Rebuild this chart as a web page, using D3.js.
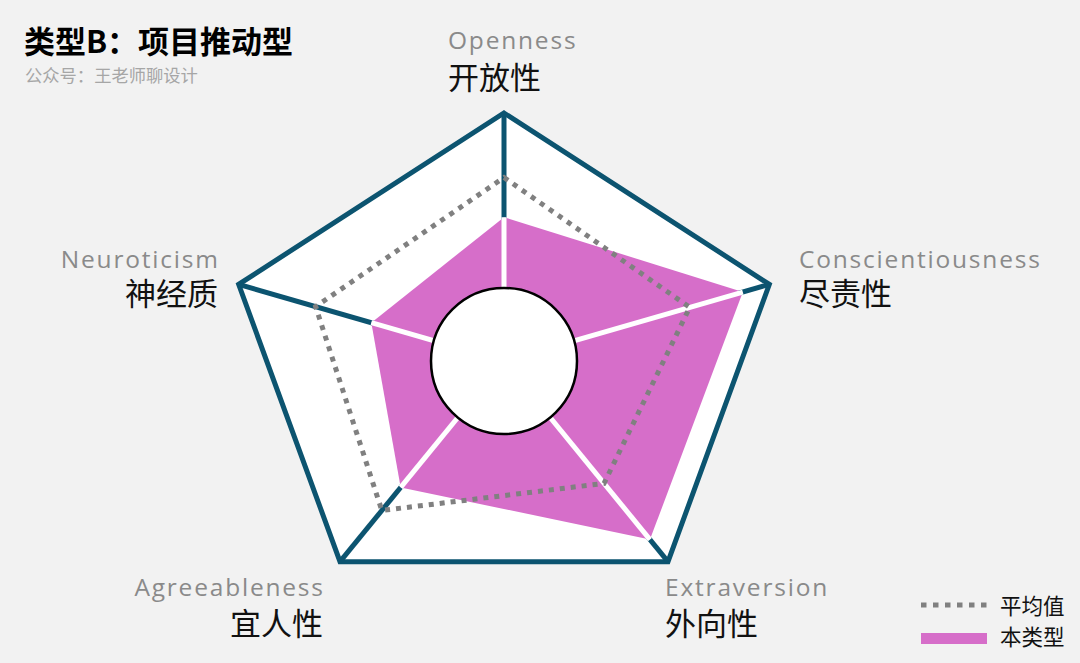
<!DOCTYPE html>
<html><head><meta charset="utf-8">
<script src="https://cdn.jsdelivr.net/npm/d3@7/dist/d3.min.js"></script>
<style>
html,body{margin:0;padding:0;background:#f2f2f2;}
svg{display:block;}
</style></head>
<body>
<svg id="chart" width="1080" height="663"></svg>
<script>
// ---- data ----
const dimensionsEn = ["Openness", "Conscientiousness", "Extraversion", "Agreeableness", "Neuroticism"];
const dimensionsZh = ["开放性", "尽责性", "外向性", "宜人性", "神经质"];
const averageValues = [0.74, 0.70, 0.61, 0.745, 0.71];
const typeBValues   = [0.58, 0.90, 0.89, 0.63, 0.50];
const seriesNames = ["平均值", "本类型"];
const titleText = "类型B：项目推动型";
const subtitleText = "公众号：王老师聊设计";

// ---- layout ----
const W = 1080, H = 663;
const cx = 504, cy = 361, Rx = 279, Ry = 248;
const navy = "#0c5470", magenta = "#d66ec9", grey = "#808080";
const svg = d3.select("#chart");
svg.append("rect").attr("width", W).attr("height", H).attr("fill", "#f2f2f2");

const n = dimensionsEn.length;
const angle = d3.scaleLinear().domain([0, n]).range([-Math.PI / 2, 1.5 * Math.PI]);
const rX = d3.scaleLinear().domain([0, 1]).range([0, Rx]);
const rY = d3.scaleLinear().domain([0, 1]).range([0, Ry]);
const px = (i, v) => cx + rX(v) * Math.cos(angle(i));
const py = (i, v) => cy + rY(v) * Math.sin(angle(i));
const line = d3.line().x(d => d[0]).y(d => d[1]).curve(d3.curveLinearClosed);

// outer pentagon
const outer = d3.range(n).map(i => [px(i, 1), py(i, 1)]);
svg.append("path").attr("d", line(outer)).attr("fill", "#ffffff")
  .attr("stroke", navy).attr("stroke-width", 5).attr("stroke-linejoin", "miter");

// navy spokes
svg.append("g").selectAll("line").data(d3.range(n)).join("line")
  .attr("x1", cx).attr("y1", cy)
  .attr("x2", i => px(i, 1)).attr("y2", i => py(i, 1))
  .attr("stroke", navy).attr("stroke-width", 5);

// type B area
const typePts = typeBValues.map((v, i) => [px(i, v), py(i, v)]);
svg.append("path").attr("d", line(typePts)).attr("fill", magenta);

// white spokes inside area
svg.append("g").selectAll("line").data(typeBValues).join("line")
  .attr("x1", cx).attr("y1", cy)
  .attr("x2", (v, i) => px(i, v)).attr("y2", (v, i) => py(i, v))
  .attr("stroke", "#ffffff").attr("stroke-width", 5);

// average dotted polygon
const avgPts = averageValues.map((v, i) => [px(i, v), py(i, v)]);
svg.append("path").attr("d", line(avgPts)).attr("fill", "none")
  .attr("stroke", grey).attr("stroke-width", 5).attr("stroke-dasharray", "5,6");

// central circle
svg.append("circle").attr("cx", cx).attr("cy", cy).attr("r", 73)
  .attr("fill", "#ffffff").attr("stroke", "#000").attr("stroke-width", 2.5);

// axis labels
const labelLayout = [
  {x: 448, anchor: "start", yEn: 49, yZh: 89},
  {x: 799, anchor: "start", yEn: 268, yZh: 305},
  {x: 665, anchor: "start", yEn: 596, yZh: 635},
  {x: 323, anchor: "end", yEn: 596, yZh: 635},
  {x: 218, anchor: "end", yEn: 268, yZh: 305}
];
const enFont = "'Open Sans','Noto Sans',sans-serif";
const zhFont = "'Noto Sans CJK SC','Noto Sans',sans-serif";
const lg = svg.append("g");
lg.selectAll("text.en").data(dimensionsEn).join("text").attr("class", "en")
  .attr("x", (d, i) => labelLayout[i].x + (labelLayout[i].anchor === "end" ? 1.8 : 0))
  .attr("y", (d, i) => labelLayout[i].yEn)
  .attr("text-anchor", (d, i) => labelLayout[i].anchor)
  .attr("font-family", enFont).attr("font-size", 24.5).attr("letter-spacing", 1.8)
  .attr("fill", "#8a8a8a")
  .text(d => d);
lg.selectAll("text.zh").data(dimensionsZh).join("text").attr("class", "zh")
  .attr("x", (d, i) => labelLayout[i].x).attr("y", (d, i) => labelLayout[i].yZh)
  .attr("text-anchor", (d, i) => labelLayout[i].anchor)
  .attr("font-family", zhFont).attr("font-size", 31).attr("fill", "#111")
  .text(d => d);

// title
svg.append("text").attr("x", 24).attr("y", 53).attr("font-family", zhFont)
  .attr("font-weight", "bold").attr("font-size", 31).attr("fill", "#000").text(titleText);
svg.append("text").attr("x", 25).attr("y", 82).attr("font-family", zhFont)
  .attr("font-size", 17.3).attr("fill", "#a6a6a6").text(subtitleText);

// legend
const leg = svg.append("g");
leg.append("line").attr("x1", 921).attr("x2", 988).attr("y1", 605).attr("y2", 605)
  .attr("stroke", grey).attr("stroke-width", 5).attr("stroke-dasharray", "5.5,6.5");
leg.append("rect").attr("x", 921).attr("y", 633).attr("width", 66).attr("height", 11).attr("fill", magenta);
leg.selectAll("text").data(seriesNames).join("text")
  .attr("x", 1000).attr("y", (d, i) => 614 + i * 31)
  .attr("font-family", zhFont).attr("font-size", 21.5).attr("fill", "#111").text(d => d);
</script>
</body></html>
